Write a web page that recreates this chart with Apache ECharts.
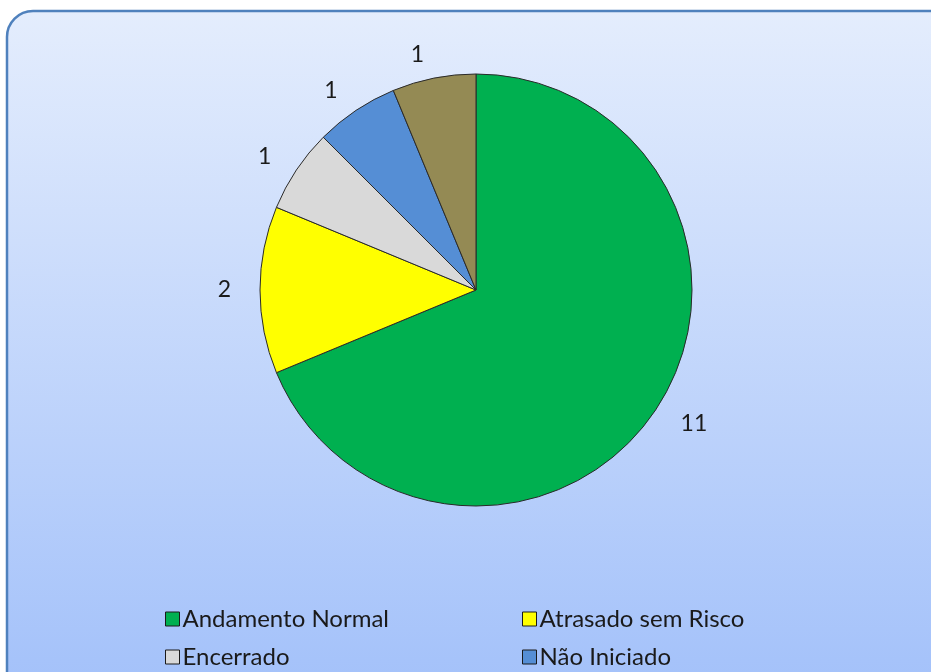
<!DOCTYPE html>
<html>
<head>
<meta charset="utf-8">
<script src="https://cdn.jsdelivr.net/npm/echarts@6/dist/echarts.min.js"></script>
<style>
  html, body { margin: 0; padding: 0; background: #fff; }
  #chart { width: 931px; height: 672px; }
</style>
</head>
<body>
<div id="chart"></div>
<script>
// slice names and counts, in clockwise order from 12 o'clock
var categories = ['Andamento Normal', 'Atrasado sem Risco', 'Encerrado', 'Não Iniciado', 'Paralisado']
var values = [11, 2, 1, 1, 1]
var colors = ['#00b050', '#ffff00', '#d9d9d9', '#558ed5', '#948a54']

var legendCol1 = ['Andamento Normal', 'Encerrado', 'Paralisado']
var legendCol2 = ['Atrasado sem Risco', 'Não Iniciado']

var chart = echarts.init(document.getElementById('chart'))

var pieData = categories.map(function (name, i) {
  return { name: name, value: values[i], itemStyle: { color: colors[i] } }
})

var legendBase = {
  orient: 'vertical',
  top: 602,
  height: 300,
  itemWidth: 14,
  itemHeight: 14,
  itemGap: 14,
  icon: 'rect',
  itemStyle: { borderColor: '#1a1a1a', borderWidth: 1 },
  textStyle: { fontFamily: 'Lato', fontSize: 24, color: '#1a1a1a', padding: [0, 0, 0, -2] }
}

chart.setOption({
  animation: false,
  graphic: [{
    type: 'rect',
    z: -10,
    shape: { x: 7, y: 11, width: 960, height: 720, r: 26 },
    style: {
      fill: new echarts.graphic.LinearGradient(0, 0, 0, 1, [
        { offset: 0, color: '#e4edfd' },
        { offset: 0.9, color: '#a6c3fa' },
        { offset: 1, color: '#a0bef9' }
      ]),
      stroke: '#4f81bd',
      lineWidth: 2.5
    }
  }],
  legend: [
    Object.assign({}, legendBase, { left: 160, data: legendCol1 }),
    Object.assign({}, legendBase, { left: 517, data: legendCol2 })
  ],
  series: [{
    type: 'pie',
    center: [476, 290],
    radius: 216,
    startAngle: 90,
    clockwise: true,
    avoidLabelOverlap: false,
    itemStyle: { borderColor: '#2a2a2a', borderWidth: 1 },
    label: {
      show: true,
      position: 'outside',
      formatter: '{c}',
      fontFamily: 'Lato',
      fontSize: 23,
      color: '#1a1a1a'
    },
    labelLine: { show: false, length: 24, length2: 0 },
    emphasis: { disabled: true },
    data: pieData
  }]
})
</script>
</body>
</html>
